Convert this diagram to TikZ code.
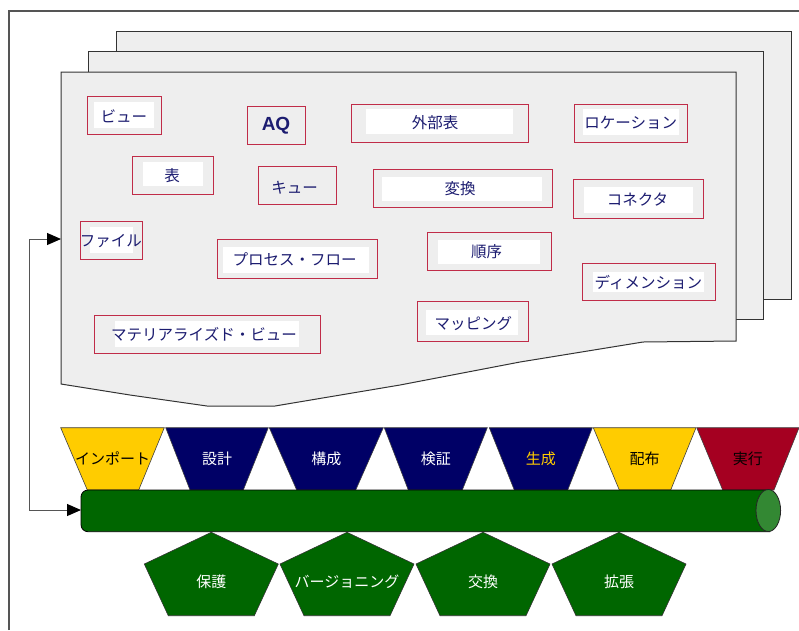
\documentclass[tikz,border=0pt]{standalone}
\usepackage{fontspec}
\newfontfamily\jp{Noto Sans CJK JP}
\newfontfamily\lsans{Liberation Sans}
\usetikzlibrary{arrows.meta,fit}
\definecolor{sheetgray}{HTML}{EEEEEE}
\definecolor{boxred}{RGB}{192,44,72}
\definecolor{navytxt}{RGB}{28,28,112}
\definecolor{tyellow}{HTML}{FFCC00}
\definecolor{tnavy}{HTML}{000066}
\definecolor{tred}{HTML}{A50021}
\definecolor{cgreen}{HTML}{006600}
\definecolor{capgreen}{HTML}{338833}
\definecolor{framegray}{HTML}{555555}
\tikzset{
  frameline/.style={draw=framegray,line width=1.2pt},
  sheet/.style={draw=black!80,fill=sheetgray,line width=1pt},
  redbox/.style={draw=boxred,line width=1pt,fill=sheetgray,inner sep=0pt},
  lbl/.style={text=navytxt,font=\jp\fontsize{15.5}{17}\selectfont,inner sep=0pt},
  aqlbl/.style={text=navytxt,font=\lsans\bfseries\fontsize{19}{21}\selectfont,inner sep=0pt},
  trapshape/.style={draw=black!75,line width=0.6pt},
  tlbl/.style={font=\jp\fontsize{15}{17}\selectfont,inner sep=0pt},
  pentshape/.style={fill=cgreen,draw=black!80,line width=0.6pt},
  plbl/.style={text=white,font=\jp\fontsize{15}{17}\selectfont,inner sep=0pt},
  conn/.style={draw=framegray,line width=1pt,
    {Triangle[length=14pt,width=12pt,color=black]}-{Triangle[length=14pt,width=12pt,color=black]}}
}
% label box with white inner field
\newcommand\lbox[6]{%
  \node[redbox,fit={#2}] (#1) {};
  \fill[white] #3 rectangle #4;
  \node[lbl] (#1-t) at #5 {#6};}
% label box without inner field
\newcommand\pbox[5]{%
  \node[redbox,fit={#2}] (#1) {};
  \node[#3] (#1-t) at #4 {#5};}
% trapezoid
\newcommand\trap[8]{%
  \fill[#6,trapshape] (#2,427.7) -- (#3,427.7) -- (#5,490) -- (#4,490) -- cycle;
  \node[tlbl,text=#7] (#1) at ({(#2+#3)/2},458.8) {#8};}
% pentagon
\newcommand\pent[3]{%
  \filldraw[pentshape] (#2,532.3) -- ({#2+67},564) -- ({#2+43},615.7) -- ({#2-43},615.7) -- ({#2-67},564) -- cycle;
  \node[plbl] (#1) at (#2,581.7) {#3};}
\begin{document}
\begin{tikzpicture}[x=1pt,y=-1pt]
\useasboundingbox (0,0) rectangle (799,630);
% outer frame
\draw[frameline] (9,630) -- (9,11) -- (799,11);
% stacked sheets
\draw[sheet] (116,31) rectangle (791,299);
\draw[sheet] (88,51) rectangle (763,319);
\draw[sheet] (61,72) -- (736,72) -- (736,341) -- (643,342) -- (520,362) -- (400,385) -- (275,406) -- (207,406) -- (130,395) -- (61,384) -- cycle;
\coordinate (sheetL) at (61,239);
% label boxes
\lbox{view}{(87.3,96.3) (161.3,134)}{(93.7,102)}{(153.7,128.3)}{(123.8,116.7)}{ビュー}
\pbox{aq}{(247.3,106.7) (305.3,144.7)}{aqlbl}{(276,125.5)}{AQ}
\lbox{ext}{(351.7,104.3) (528.3,142)}{(365.7,109.3)}{(513.3,134.3)}{(435,122.7)}{外部表}
\lbox{loc}{(574.3,104) (687,142.3)}{(583.3,109)}{(679.3,135)}{(630.7,123)}{ロケーション}
\lbox{tab}{(132.7,156) (213.3,194)}{(142.7,162.3)}{(203.3,186.3)}{(172,176)}{表}
\pbox{que}{(258,166.7) (336,204.7)}{lbl}{(294.5,187.7)}{キュー}
\lbox{trf}{(373,169.7) (552.3,207.3)}{(381.7,176.7)}{(541.7,201.3)}{(460,188.3)}{変換}
\lbox{con}{(573,179) (703,218.3)}{(584.3,186.7)}{(693.3,212.7)}{(637.5,199.3)}{コネクタ}
\lbox{fil}{(80.7,221.7) (142.7,259.7)}{(90,226.7)}{(132.7,253.3)}{(110.8,241)}{ファイル}
\lbox{pf}{(217,239) (377.7,278.3)}{(223.3,246.7)}{(369.3,272.7)}{(294.5,259)}{プロセス・フロー}
\lbox{seq}{(427.7,232.3) (551,270.3)}{(437.7,240)}{(540,264.3)}{(486.7,251.7)}{順序}
\lbox{dim}{(582.7,263) (715,300.7)}{(592.7,271.7)}{(704,292)}{(648.3,282.7)}{ディメンション}
\lbox{map}{(417,301.7) (528.3,341)}{(426,309.7)}{(518,335.3)}{(473.3,323.3)}{マッピング}
\lbox{mv}{(94,315) (320.3,353)}{(115,320.7)}{(299.3,346.7)}{(204,334)}{マテリアライズド・ビュー}
% trapezoids
\trap{imp}{60.7}{164.3}{87.3}{138.7}{tyellow}{black}{インポート}
\trap{des}{165.7}{268.3}{190}{243.3}{tnavy}{white}{設計}
\trap{kou}{269.3}{383.3}{296.7}{355.7}{tnavy}{white}{構成}
\trap{ken}{384.3}{487.3}{408.3}{462.3}{tnavy}{white}{検証}
\trap{sei}{489.3}{592.3}{514.3}{567.7}{tnavy}{tyellow}{生成}
\trap{hai}{593.3}{696}{619.3}{670.7}{tyellow}{black}{配布}
\trap{jik}{696.7}{799}{722.7}{774}{tred}{black}{実行}
% cylinder
\filldraw[fill=cgreen,draw=black,line width=0.8pt,rounded corners=7pt] (770,490) -- (81,490) -- (81,531.7) -- (770,531.7);
\filldraw[fill=capgreen,draw=black!85,line width=0.8pt] (768.3,510.5) ellipse [x radius=12.3, y radius=21];
\coordinate (cylL) at (81,510);
% feedback connector
\draw[conn] (cylL) -- ++(-52,0) |- (sheetL);
% pentagons
\pent{hogo}{211.3}{保護}
\pent{ver}{347}{バージョニング}
\pent{kou2}{483}{交換}
\pent{kak}{619}{拡張}
\end{tikzpicture}
\end{document}
